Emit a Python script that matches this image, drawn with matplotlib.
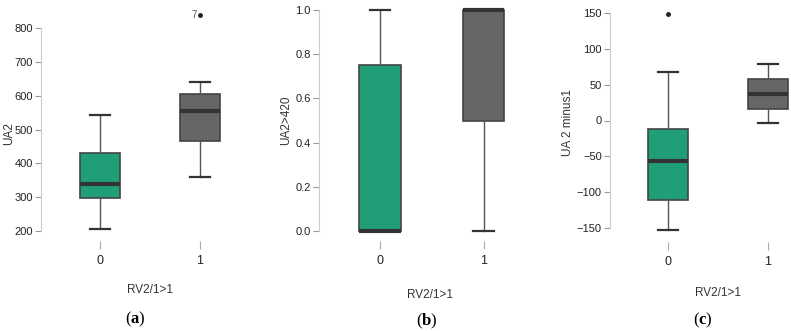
import matplotlib
matplotlib.use("Agg")
import matplotlib.pyplot as plt

# five-number summaries: [whisker low, Q1, median, Q3, whisker high]
groups = ["0", "1"]
ua2 = {"0": [207, 297, 340, 432, 543], "1": [360, 465, 555, 605, 640]}
ua2_fliers = {"0": [], "1": [838]}
ua2_flier_labels = {"1": "7"}

ua2_420 = {"0": [0.0, 0.0, 0.0, 0.75, 1.0], "1": [0.0, 0.5, 1.0, 1.0, 1.0]}
ua2_420_fliers = {"0": [], "1": []}

ua2_minus1 = {"0": [-153, -110, -57, -12, 67], "1": [-4, 16, 37, 58, 79]}
ua2_minus1_fliers = {"0": [148], "1": []}

box_colors = ["#1f9e77", "#666666"]
sans = ["Liberation Sans", "DejaVu Sans"]
W, H = 791, 331

plt.rcParams["mathtext.fontset"] = "custom"
plt.rcParams["mathtext.rm"] = "Liberation Serif"
plt.rcParams["mathtext.bf"] = "Liberation Serif:bold"


def make_stats(summary, fliers):
    out = []
    for g in groups:
        lo, q1, med, q3, hi = summary[g]
        out.append(dict(whislo=lo, q1=q1, med=med, q3=q3, whishi=hi,
                        fliers=fliers[g], label=g))
    return out


def panel(rect_px, xlim, ylim, yticks, ylabel, summary, fliers, ticklabels=None):
    left, top, right, bottom = rect_px
    ax = fig.add_axes([left / W, 1 - bottom / H, (right - left) / W, (bottom - top) / H])
    ax.patch.set_alpha(0)
    bp = ax.bxp(make_stats(summary, fliers), positions=[0, 1], widths=0.4,
                patch_artist=True, capwidths=0.2,
                boxprops=dict(edgecolor="#444444", linewidth=1.2),
                medianprops=dict(color="#333333", linewidth=3),
                whiskerprops=dict(color="#555555", linewidth=1),
                capprops=dict(color="#333333", linewidth=1.6),
                flierprops=dict(marker="o", markersize=2.5, markerfacecolor="#222222",
                                markeredgecolor="#222222"))
    for patch, c in zip(bp["boxes"], box_colors):
        patch.set_facecolor(c)
    for fl in bp["fliers"]:
        fl.set_clip_on(False)
    ax.set_xlim(*xlim)
    ax.set_ylim(*ylim)
    ax.set_yticks(yticks)
    if ticklabels is not None:
        ax.set_yticklabels(ticklabels)
    for s in ["top", "right", "bottom"]:
        ax.spines[s].set_visible(False)
    ax.spines["left"].set_color("#cccccc")
    ax.spines["left"].set_bounds(yticks[0], yticks[-1])
    ax.spines["bottom"].set_position(("outward", 2))
    ax.tick_params(axis="y", length=4, color="#999999", labelsize=8, pad=2)
    ax.tick_params(axis="x", length=6, color="#aaaaaa", labelsize=9, pad=4)
    for lab in ax.get_xticklabels() + ax.get_yticklabels():
        lab.set_family(sans)
        lab.set_color("#222222")
    ax.set_ylabel(ylabel, fontsize=8.5, color="#333333", family=sans)
    return ax


fig = plt.figure(figsize=(7.91, 3.31), dpi=100)

# (a)
ax1 = panel((41, 11, 235, 238), (-0.59, 1.35), (180, 850), [200, 300, 400, 500, 600, 700, 800],
            "UA2", ua2, ua2_fliers)
ax1.yaxis.set_label_coords(-0.135, 0.46)
for g, lab in ua2_flier_labels.items():
    ax1.text(int(g) - 0.03, ua2_fliers[g][0], lab, ha="right", va="center", fontsize=7,
             color="#555555", family=sans, clip_on=False)

# (b)
ax2 = panel((319, 3, 520, 238), (-0.587, 1.35), (-0.03, 1.03), [0.0, 0.2, 0.4, 0.6, 0.8, 1.0],
            "UA2>420", ua2_420, ua2_420_fliers,
            ticklabels=["0.0", "0.2", "0.4", "0.6", "0.8", "1.0"])
ax2.yaxis.set_label_coords(-0.135, 0.5)

# (c)
ax3 = panel((610, 2, 790, 239), (-0.58, 1.22), (-165, 165), [-150, -100, -50, 0, 50, 100, 150],
            "UA 2 minus1", ua2_minus1, ua2_minus1_fliers)
ax3.yaxis.set_label_coords(-0.2, 0.49)

# x labels and captions
for x, y, cap_x, cap_y, cap in [(150, 290, 135, 319, "a"), (430, 295, 427, 321, "b"),
                                (718, 293, 703, 320, "c")]:
    fig.text(x / W, 1 - y / H, "RV2/1>1", ha="center", va="center", fontsize=8.5,
             color="#333333", family=sans)
    fig.text(cap_x / W, 1 - cap_y / H, "($\\mathbf{" + cap + "}$)", ha="center", va="center",
             fontsize=12, family=["Liberation Serif", "DejaVu Serif"])

fig.savefig("out.png", dpi=100)
